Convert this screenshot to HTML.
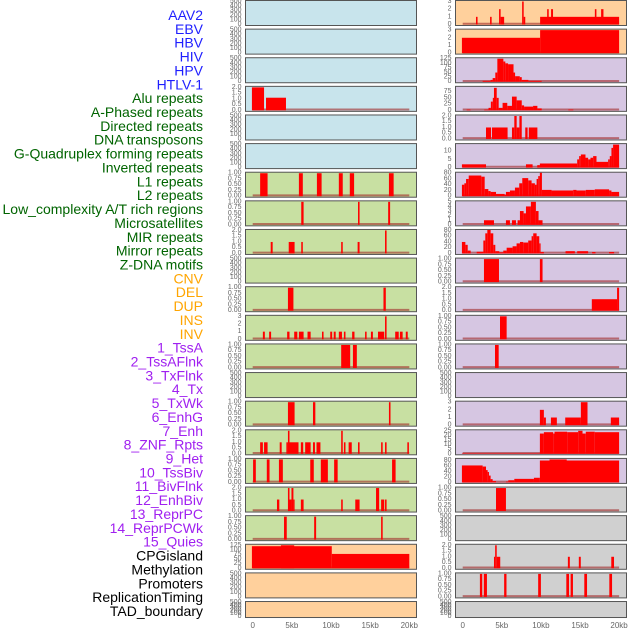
<!DOCTYPE html>
<html><head><meta charset="utf-8"><style>
html,body{margin:0;padding:0;background:#fff;}
svg{display:block;font-family:"Liberation Sans",sans-serif;}
</style></head><body>
<svg id="chart" width="630" height="630" viewBox="0 0 630 630" xmlns="http://www.w3.org/2000/svg"></svg>
<script>
const labels = ["AAV2","EBV","HBV","HIV","HPV","HTLV-1","Alu repeats","A-Phased repeats","Directed repeats","DNA transposons","G-Quadruplex forming repeats","Inverted repeats","L1 repeats","L2 repeats","Low_complexity A/T rich regions","Microsatellites","MIR repeats","Mirror repeats","Z-DNA motifs","CNV","DEL","DUP","INS","INV","1_TssA","2_TssAFlnk","3_TxFlnk","4_Tx","5_TxWk","6_EnhG","7_Enh","8_ZNF_Rpts","9_Het","10_TssBiv","11_BivFlnk","12_EnhBiv","13_ReprPC","14_ReprPCWk","15_Quies","CPGisland","Methylation","Promoters","ReplicationTiming","TAD_boundary"];
const labelGroups = ["v","v","v","v","v","v","r","r","r","r","r","r","r","r","r","r","r","r","r","s","s","s","s","s","c","c","c","c","c","c","c","c","c","c","c","c","c","c","c","m","m","m","m","m"];
const panelScale = ["E","E","E","T","E","E","U","U","T","E","U","I3","U","E","U","T","U","T","U","C125","E","E","I3","I3","C125","Q75","T","Tx","W80","G5","W80","U","T","U","U","E","I3","R25","Q80","U","E","T","U","E"];
const xTicks = [0,5,10,15,20];
const xTickLabels = ["0","5kb","10kb","15kb","20kb"];
const segments = [
 [],[],[],
 [[-0.1,1.45,2],[1.7,4.25,1.1]],
 [],[],
 [[0.95,1.9,1],[5.9,6.4,1],[8.2,8.8,1],[11.0,11.5,1],[12.4,12.95,1],[17.4,18.0,1]],
 [[6.2,6.5,1],[13.45,13.65,1],[17.3,17.55,1]],
 [[2.3,2.55,1],[4.6,5.35,1],[6.2,6.4,1],[11.3,11.5,1],[13.4,13.65,1],[16.9,17.1,2]],
 [],
 [[4.5,5.2,1],[16.7,17.0,1]],
 [[1.3,1.55,1],[2.1,2.35,1],[4.4,4.7,1],[5.3,5.7,1],[5.9,6.5,1],[7.0,7.4,1],[8.85,9.05,1],[9.9,10.15,1],[10.35,10.6,1],[11.0,11.4,1],[11.65,11.85,1],[12.7,13.0,1],[14.35,14.55,1],[15.1,15.35,1],[16.0,16.8,1],[16.9,17.1,3],[18.2,18.65,1],[18.8,19.15,1],[19.55,19.8,1]],
 [[11.3,12.45,1],[12.8,13.3,1]],
 [],
 [[4.5,5.35,1],[7.7,8.0,1],[17.4,17.6,1]],
 [[0.95,1.3,1],[1.45,1.9,1],[3.45,3.7,1],[4.3,4.5,1],[4.5,4.7,2],[4.7,5.85,1],[6.15,6.45,1],[6.7,7.4,1],[7.7,7.95,1],[8.15,8.65,1],[11.3,11.5,2],[11.65,11.85,1],[12.25,12.65,1],[13.45,13.65,1],[16.4,16.6,1],[16.9,17.1,1],[19.75,19.95,1]],
 [[0.05,0.4,1],[1.8,2.15,1],[3.35,3.85,1],[7.35,7.8,1],[8.7,9.6,1],[10.4,10.85,1],[17.8,18.25,1]],
 [[3.1,3.4,1],[4.5,4.7,2],[4.7,4.95,1],[4.95,5.2,2],[5.2,5.35,1],[6.15,6.5,1],[11.3,11.5,1],[13.1,13.65,1],[15.75,16.15,2],[16.4,16.8,1],[16.9,17.1,1]],
 [[4.0,4.35,1],[7.85,8.1,1],[16.4,16.6,1]],
 [[-0.1,10.1,120],[3.6,5.3,125],[10.1,20.0,78]],
 [],[],
 [[1.7,1.9,1],[3.5,3.7,1],[4.65,4.85,2],[4.85,5.3,1],[7.6,7.8,3],[7.8,8.0,1],[9.9,20.0,1],[10.8,11.0,2],[11.3,11.55,2],[16.9,17.1,2],[17.7,18.0,2]],
 [[-0.1,9.9,2],[9.9,20.0,3]],
 [[2.55,3.57,5],[3.57,3.83,10],[3.83,4.17,20],[4.17,4.43,50],[4.43,5.2,125],[5.2,5.45,110],[5.45,5.8,100],[5.8,6.5,95],[6.5,6.7,50],[6.7,7.3,30],[7.3,7.55,25],[7.55,8.4,10],[8.4,10.1,5]],
 [[0.5,1.0,3],[2.75,3.3,3],[3.3,3.6,10],[3.6,3.85,35],[3.85,4.0,50],[4.0,4.35,90],[4.35,4.6,50],[4.6,5.1,10],[5.1,5.7,30],[5.7,6.3,18],[6.3,6.9,55],[6.9,7.55,40],[7.55,7.85,20],[7.85,9.0,15],[9.0,9.55,18],[9.55,10.1,8],[13.5,14.15,3]],
 [[2.98,3.62,1],[3.74,5.74,1],[6.3,6.6,1],[6.6,6.9,2],[6.9,7.25,1],[7.25,7.55,2],[8.0,8.3,1],[8.45,9.55,1]],
 [[-0.1,2.98,2],[8.09,8.94,2],[9.53,9.87,1.5],[9.87,14.64,2.5],[14.64,14.89,5],[14.89,15.11,7],[15.11,15.7,8],[15.7,16.04,6],[16.04,16.34,5],[16.34,16.68,6],[16.68,17.11,7],[17.11,18.6,3.5],[18.6,18.81,5],[18.81,19.02,7],[19.02,19.23,12],[19.23,20.0,14]],
 [[-0.1,0.21,40],[0.21,0.43,45],[0.43,0.77,60],[0.77,2.38,72],[2.38,2.81,68],[2.81,3.28,25],[3.28,3.57,18],[3.57,4.26,15],[4.26,5.36,8],[5.36,5.53,5],[5.53,6.04,15],[6.04,6.68,20],[6.68,7.23,30],[7.23,7.62,45],[7.62,8.38,63],[8.38,8.81,55],[8.81,9.23,45],[9.23,9.45,40],[9.45,9.66,60],[9.66,9.87,70],[9.87,10.13,90],[10.13,11.36,22],[11.36,14.13,20],[14.13,14.55,22],[14.55,15.74,20],[15.74,16.89,22],[16.89,18.72,24],[18.72,19.02,20],[19.02,20.0,15]],
 [[2.72,4.0,1],[5.53,6.04,1],[6.3,6.81,1],[7.02,7.32,1],[7.32,7.79,3],[7.79,8.09,2.5],[8.09,8.72,4],[8.72,9.36,5],[9.36,9.7,3],[9.7,10.21,1]],
 [[-0.1,0.34,40],[0.34,0.64,30],[0.64,1.02,10],[1.79,2.64,6],[2.64,2.89,45],[2.89,3.15,70],[3.15,3.57,85],[3.57,3.91,70],[3.91,4.17,30],[4.17,4.68,8],[4.68,5.19,4],[5.19,5.62,10],[5.62,6.38,20],[6.38,6.89,25],[6.89,7.32,35],[7.32,7.74,40],[7.74,8.38,38],[8.38,8.81,45],[8.81,9.02,60],[9.02,9.45,70],[9.45,9.79,60],[9.79,9.96,35],[9.96,10.38,5],[13.15,14.34,8],[14.64,16.04,8],[16.55,16.98,5],[18.72,19.36,5]],
 [[2.72,4.64,1],[9.87,10.21,1]],
 [[16.51,19.74,1],[19.74,20.0,2]],
 [[4.77,5.62,1]],
 [[4.13,4.6,1]],
 [],
 [[9.87,10.38,2],[10.38,10.64,1],[11.28,12.04,1],[13.11,15.11,1],[15.11,15.96,3],[18.94,20.0,1]],
 [[-0.1,9.87,0.5],[9.87,10.38,22],[10.38,11.57,23.5],[11.57,11.74,22],[11.74,13.36,24],[13.36,14.77,23.5],[14.77,15.32,25],[15.32,15.74,22],[15.74,16.89,24],[16.89,20.0,23.5]],
 [[-0.1,2.55,62],[2.55,2.98,58],[2.98,3.19,45],[3.19,3.36,38],[3.36,3.57,25],[3.57,3.83,12],[3.83,4.26,5],[4.26,5.53,0.5],[5.53,5.83,3],[5.83,6.6,8],[6.6,9.11,13],[9.11,9.87,17],[9.87,20.0,80],[11.1,13.3,84]],
 [[4.26,5.53,1]],
 [],
 [[4.0,4.15,1],[4.15,4.35,2],[4.35,4.8,1],[13.45,13.7,1],[14.85,15.1,1],[19.0,19.35,1]],
 [[2.2,2.5,1],[2.7,3.1,1],[5.3,5.6,1],[9.65,10.0,1],[13.25,13.6,1],[13.8,14.1,1],[15.55,15.9,1],[18.75,19.1,1]],
 []
];
const scaleMax = {E:500,U:1,T:2,I3:3,C125:125,Q75:92,Tx:14,W80:80,Q80:84,G5:5,R25:25};
const scaleTicks = {E:[0,100,200,300,400,500],U:[0,0.25,0.5,0.75,1],T:[0,0.5,1,1.5,2],I3:[0,1,2,3],C125:[0,25,50,75,100,125],Q75:[0,25,50,75],Tx:[0,5,10],W80:[0,20,40,60,80],Q80:[0,20,40,60,80],G5:[0,1,2,3,4,5],R25:[0,5,10,15,20,25]};
const scaleDigits = {U:2,T:1};
const groupColor = {v:"#1f1fff",r:"#006400",s:"#ffa500",c:"#a020f0",m:"#000000"};
const groupBg = {v:"#c8e4ec",r:"#c8e0a2",s:"#ffd09c",c:"#d6c6e2",m:"#d0d0d0"};

const NS="http://www.w3.org/2000/svg";
const svg=document.getElementById('chart');
function mk(tag,attrs,parent){const e=document.createElementNS(NS,tag);for(const k in attrs)e.setAttribute(k,attrs[k]);(parent||svg).appendChild(e);return e;}
const ROWS=22, STEP=28.62;
const colX=[245.5,455.5], colW=171;
const x0=[252.7,462.7], pxPerKb=[7.83,7.82];
function xScale(col,kb){return x0[col]+kb*pxPerKb[col];}

// labels
labels.forEach((name,i)=>{
  const t=mk('text',{x:203,y:15+i*13.86,'text-anchor':'end','dominant-baseline':'central','font-size':'14',fill:groupColor[labelGroups[i]]});
  
  
  t.textContent=name;
});

labels.forEach((name,i)=>{
  const col=i<ROWS?0:1, row=i%ROWS;
  const top=row*STEP+0.5, h=(row===ROWS-1)?16:25;
  const bottom=top+h;
  const sc=panelScale[i], ymax=scaleMax[sc];
  const yScale=v=>bottom-1-(v/ymax)*(h-2);
  const g=mk('g',{});
  
  
  const bg=mk('rect',{x:colX[col],y:top,width:colW,height:h,fill:groupBg[labelGroups[i]],stroke:'#555','stroke-width':1},g);
  
  
  // ticks
  scaleTicks[sc].forEach(tv=>{
    const tt=mk('text',{x:colX[col]-4,y:yScale(tv),'text-anchor':'end','dominant-baseline':'central','font-size':'7',fill:'#666'},g);
    
    
    tt.textContent=scaleDigits[sc]?tv.toFixed(scaleDigits[sc]):String(tv);
  });
  const segs=segments[i];
  if(segs.length){
    const bl=mk('line',{x1:xScale(col,0),x2:xScale(col,20),y1:bottom-1.8,y2:bottom-1.8,stroke:'rgba(160,40,40,0.6)','stroke-width':2},g);
    
    
  }
  segs.forEach(s=>{
    const xa=xScale(col,s[0]), xb=xScale(col,s[1]);
    const v=Math.min(s[2],ymax*1.02);
    const ya=Math.max(yScale(v),top+0.5);
    const r=mk('rect',{x:xa,y:ya,width:Math.max(xb-xa,1),height:bottom-1-ya,fill:'#ff0000'},g);
    
    
  });
});

// x axis labels
[0,1].forEach(col=>{
  xTicks.forEach((kb,j)=>{
    const t=mk('text',{x:xScale(col,kb),y:628,'text-anchor':'middle','font-size':'8',fill:'#666'});
    
    
    t.textContent=xTickLabels[j];
  });
});
</script>
</body></html>
